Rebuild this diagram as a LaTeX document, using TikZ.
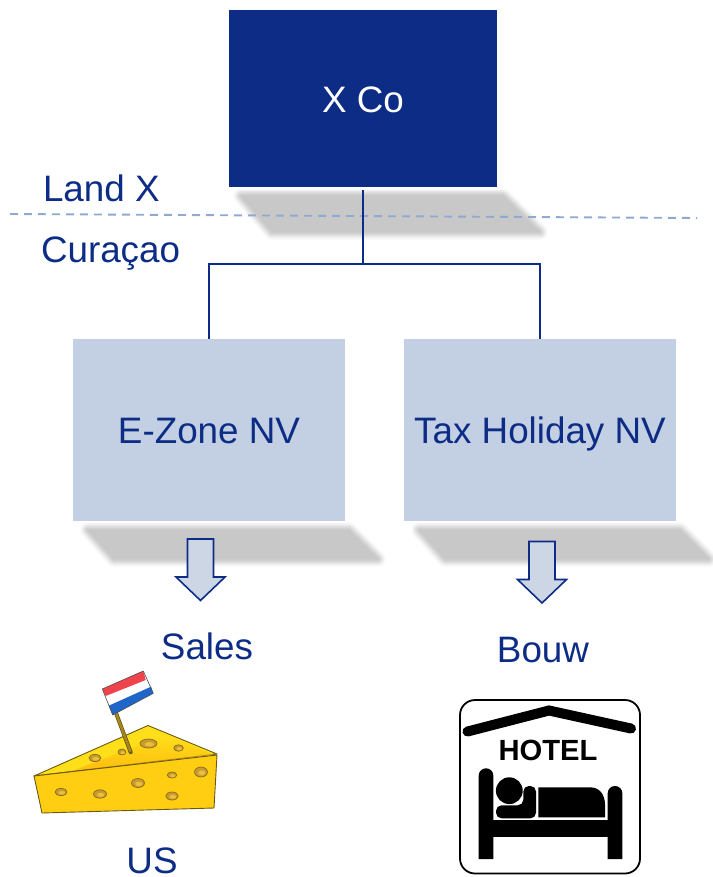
\documentclass[tikz,border=0pt]{standalone}
\usepackage{fontspec}
\setmainfont{Liberation Sans}
\definecolor{navy}{HTML}{0D2C86}
\definecolor{paleblue}{HTML}{C3CFE2}
\definecolor{arrowfill}{HTML}{CDD6E5}
\definecolor{dashblue}{HTML}{8FA9D2}
\definecolor{cheesefront}{HTML}{FFCE12}
\definecolor{cheesetop}{HTML}{FFDF1A}
\definecolor{cheeseline}{HTML}{6A5A12}
\definecolor{holefill}{HTML}{C99A30}
\definecolor{holelight}{HTML}{EDBE3C}
\definecolor{flagred}{HTML}{F0444C}
\definecolor{flagblue}{HTML}{1F66C8}
\definecolor{stickcol}{HTML}{A8861E}
\newcommand{\softshadow}[4]{%
  \foreach \w/\k in {16/1.5,14/3.5,12/6,10/9,8/12,6/15,4/18,2/20}{%
    \draw[line width=\w pt,line join=round,draw=black!\k!white] #1 -- #2 -- #3 -- #4 -- cycle;}%
  \fill[black!21.5!white] #1 -- #2 -- #3 -- #4 -- cycle;}
\newcommand{\blockarrow}[2]{%
  \begin{scope}[shift={(#1,#2)}]
    \draw[blockstyle] (-13,0) -- (13,0) -- (13,38) -- (24.5,38) -- (0,61.5) -- (-24.5,38) -- (-13,38) -- cycle;
  \end{scope}}
\tikzset{
  x=1pt,y=-1pt,
  bigtext/.style={font=\fontsize{36.8}{40}\selectfont,text=navy,inner sep=0pt,outer sep=0pt},
  topbox/.style={fill=navy,draw=white,line width=3pt,minimum width=271pt,minimum height=180pt,inner sep=0pt,text=white,font=\fontsize{36.8}{40}\selectfont,text height=28.4pt,text depth=0pt},
  subbox/.style={fill=paleblue,minimum width=272pt,minimum height=182pt,inner sep=0pt,outer sep=0pt,text=navy,font=\fontsize{36.8}{40}\selectfont,text height=27.4pt,text depth=0pt},
  link/.style={draw=navy,line width=2pt},
  border/.style={draw=dashblue,line width=1.9pt,dash pattern=on 8pt off 6pt},
  blockstyle/.style={draw=navy,line width=1.6pt,fill=arrowfill,line join=miter},
  hole/.style={fill=holefill,draw=cheeseline!70!holefill,line width=0.7pt},
  holein/.style={fill=holelight,draw=none},
  hotelink/.style={fill=black,draw=none},
}
\begin{document}
\begin{tikzpicture}
\useasboundingbox (0,0) rectangle (712,877);
\softshadow{(241,196)}{(503,196)}{(540,232)}{(272,232)}
\softshadow{(88,530)}{(349,530)}{(378,559)}{(114,559)}
\softshadow{(419,530)}{(680,530)}{(709,559)}{(445,559)}
\coordinate (dashL) at (10,214);
\coordinate (dashR) at (697,218);
\draw[border] (dashL) -- (dashR);
\node[topbox] (xco) at (363,98.5) {X Co};
\node[subbox] (ezone) at (209,430) {E-Zone NV};
\node[subbox] (tax) at (540,430) {Tax Holiday NV};
\coordinate (bus) at (363,264);
\draw[link] (xco.south) -- (bus);
\draw[link] (ezone.north) |- (bus);
\draw[link] (tax.north) |- (bus);
\node[bigtext,anchor=base west] (landx) at (43,202) {Land X};
\node[bigtext,anchor=base west] (curacao) at (41,262) {Curaçao};
\node[bigtext,anchor=base] (sales) at (207,659) {Sales};
\node[bigtext,anchor=base] (bouw) at (543,662) {Bouw};
\node[bigtext,anchor=base] (us) at (152,873.5) {US};
\blockarrow{200.5}{539}
\blockarrow{542}{541.5}
% cheese
\fill[cheesetop,draw=cheeseline,line width=0.9pt,line join=round] (34,776) -- (148,725.5) -- (217,754) -- cycle;
\shade[top color=cheesetop,bottom color=orange!55!cheesefront,opacity=.55] (75,770) -- (165,735) -- (214,755) -- (120,767) -- cycle;
\fill[cheesefront,draw=cheeseline,line width=0.9pt,line join=round] (34,776) -- (217,755) -- (214,808) -- (42,813) -- cycle;
\foreach \x/\y/\a/\b in {61/792/6/3.6, 100/794/6.5/4.2, 138/783/6.5/4.5, 172/775/4.8/3, 201/772/6.5/5, 172/796/6.2/4, 95/758/6/3.6, 122/752/4/3, 148.5/743.5/8.5/4.5, 178.5/748/4.8/3.2}{
  \draw[hole] (\x,\y) ellipse[x radius=\a,y radius=\b];
  \fill[holein] (\x+0.8,\y+0.8) ellipse[x radius=0.55*\a,y radius=0.5*\b];}
% flag
\draw[cheeseline,line width=4pt,line cap=round] (116,713) -- (130.7,752.3);
\draw[stickcol,line width=2.4pt,line cap=round] (116,713) -- (130.2,751);
\fill[white] (102.3,689) -- (143.3,671) -- (153.3,693.3) -- (112.7,715) -- cycle;
\fill[flagred] (102.3,689) -- (143.3,671) -- (145.7,680) -- (105.7,696) -- cycle;
\fill[flagblue] (108.7,705.7) -- (151,686.7) -- (153.3,693.3) -- (112.7,715) -- cycle;
\draw[black!70,line width=0.6pt,line join=round] (102.3,689) -- (143.3,671) -- (153.3,693.3) -- (112.7,715) -- cycle;
% hotel sign
\draw[black,line width=1.8pt,fill=white,rounded corners=15pt] (460,700) rectangle (640,873.5);
\draw[black,line width=10pt,line cap=round,line join=miter] (467.5,731.5) -- (549,710.5) -- (631,728.5);
\node[anchor=base,inner sep=0pt,font=\fontsize{29.2}{32}\selectfont\bfseries,text=black] (hoteltxt) at (548,760) {HOTEL};
\fill[hotelink] (478.7,859) [rounded corners=7.2pt] -- (478.7,768.3) -- (493.3,768.3) [sharp corners] -- (493.3,859) -- cycle;
\fill[hotelink] (607.7,859) [rounded corners=7.2pt] -- (607.7,786) -- (622.3,786) [sharp corners] -- (622.3,859) -- cycle;
\fill[hotelink] (490,820) rectangle (610,837.3);
\fill[hotelink] (509.3,790.7) circle[radius=13.4];
\fill[hotelink,rounded corners=5.5pt] (496,805.3) -- (523.3,805.3) -- (523.3,786) -- (536,786) -- (536,818.3) -- (496,818.3) -- cycle;
\fill[hotelink] (538.3,817.3) -- (538.3,787.3) -- (590,787.3) .. controls (600,787.3) and (605,795) .. (605,805) -- (605,817.3) -- cycle;
\end{tikzpicture}
\end{document}
